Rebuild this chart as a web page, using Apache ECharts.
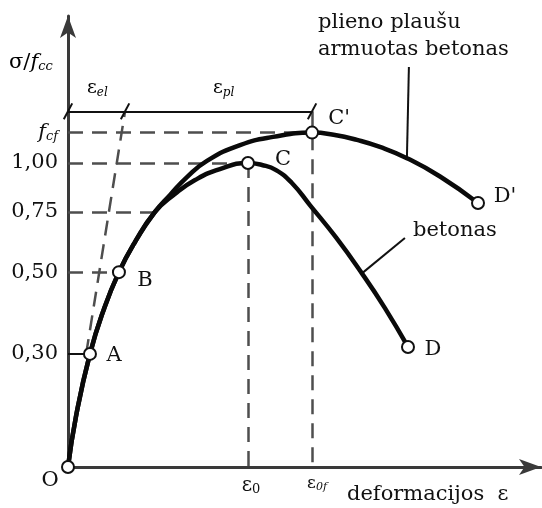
<!DOCTYPE html>
<html>
<head>
<meta charset="utf-8">
<script src="https://cdn.jsdelivr.net/npm/echarts@6/dist/echarts.min.js"></script>
<style>
  html, body { margin: 0; padding: 0; background: #fff; }
  #chart { width: 542px; height: 508px; }
</style>
</head>
<body>
<div id="chart"></div>
<script>
// Stress levels σ/fc marked on the vertical axis
const stressLevels = [0.30, 0.50, 0.75, 1.00];
const stressLabels = ['0,30', '0,50', '0,75', '1,00'];
const fcfLevel = 1.10;          // peak of steel-fibre reinforced concrete, f_cf
const dimLevel = 1.17;          // level of the ε_el / ε_pl dimension line

// The stress axis of this diagram is schematic: each reference level sits at its own height
const scaleNominal = [0, 0.30, 0.50, 0.75, 1.00, 1.10, 1.60];
const scaleDrawn   = [0, 0.372, 0.641, 0.839, 1.00, 1.10, 1.60];

// Strains (ε0 = 1)
const eps0 = 1.0;
const eps0f = 1.356;
const epsEl = 0.317;            // elastic part of ε0f
const eps75 = 0.483;            // strain where σ/fc = 0.75 on the rising branch

// Plain concrete ("betonas"): strain and σ/fc
const concreteEps = [0, 0.044, 0.122, 0.200, 0.283, 0.372, 0.483, 0.594, 0.706, 0.844, 1.000, 1.078, 1.156, 1.244, 1.344, 1.489, 1.633, 1.761, 1.889];
const concreteSig = [0, 0.133, 0.300, 0.410, 0.500, 0.625, 0.750, 0.842, 0.913, 0.969, 1.000, 0.990, 0.964, 0.898, 0.785, 0.644, 0.497, 0.412, 0.317];

// Steel-fibre reinforced concrete ("plieno plaušu armuotas betonas")
const fibreEps = [0, 0.044, 0.122, 0.200, 0.283, 0.372, 0.483, 0.567, 0.661, 0.772, 0.956, 1.139, 1.356, 1.483, 1.606, 1.733, 1.883, 2.067, 2.278];
const fibreSig = [0, 0.133, 0.300, 0.410, 0.500, 0.625, 0.750, 0.837, 0.928, 1.007, 1.059, 1.086, 1.100, 1.092, 1.076, 1.053, 1.016, 0.931, 0.796];

// Named points on the curves
const pointNames = ['O', 'A', 'B', 'C', "C'", 'D', "D'"];
const pointEps   = [0, 0.122, 0.283, 1.000, 1.356, 1.889, 2.278];
const pointSig   = [0, 0.300, 0.500, 1.000, 1.100, 0.317, 0.796];

// Curve captions: anchor on the curve and free end of the leader
const fibreLeaderEps = [1.883, 1.894];
const fibreLeaderSig = [1.016, 1.316];
const concreteLeaderEps = [1.633, 1.872];
const concreteLeaderSig = [0.497, 0.642];

// ---- schematic stress scale -------------------------------------------------
function drawnHeight(s) {
  for (let i = 1; i < scaleNominal.length; i++) {
    if (s <= scaleNominal[i]) {
      const t = (s - scaleNominal[i - 1]) / (scaleNominal[i] - scaleNominal[i - 1]);
      return scaleDrawn[i - 1] + t * (scaleDrawn[i] - scaleDrawn[i - 1]);
    }
  }
  return s;
}
const pt = (e, s) => [e, drawnHeight(s)];
const zip = (xs, ys) => xs.map((x, i) => pt(x, ys[i]));

const FONT = '"DejaVu Serif", "Liberation Serif", serif';
const INK = '#111111';
const AXIS = '#3a3a3a';
const DASH = '#4e4e4e';

const tangentStartEps = epsEl * drawnHeight(0.30) / drawnHeight(dimLevel);

const dashedSegs = [
  [pt(0, fcfLevel), pt(eps0f, fcfLevel)],
  [pt(0, 1.00), pt(eps0, 1.00)],
  [pt(0, 0.75), pt(eps75, 0.75)],
  [pt(0, 0.50), pt(pointEps[2], 0.50)],
  [pt(eps0, 1.00), pt(eps0, 0)],
  [pt(eps0f, dimLevel), pt(eps0f, 0)],
  [pt(tangentStartEps, 0.30), pt(epsEl, dimLevel)]
];

const solidSegs = [
  [pt(0, dimLevel), pt(eps0f, dimLevel)],
  [pt(0, 0.30), pt(pointEps[1], 0.30)],
  zip(fibreLeaderEps, fibreLeaderSig),
  zip(concreteLeaderEps, concreteLeaderSig)
];

// label placement around each named point (centre offset, px)
const pointLabelOffset = {
  'O': [-18, 14], 'A': [24, 2], 'B': [26, 8], 'C': [35, -3],
  "C'": [27, -14], 'D': [25, 3], "D'": [27, -6]
};

const yTickValues = stressLevels.map(drawnHeight).concat([drawnHeight(fcfLevel)]);
function yTickText(v) {
  if (Math.abs(v - drawnHeight(fcfLevel)) < 1e-6) return '{f|f}{s|cf}';
  const i = stressLevels.findIndex(s => Math.abs(drawnHeight(s) - v) < 1e-6);
  return i >= 0 ? stressLabels[i] : '';
}

const chart = echarts.init(document.getElementById('chart'), null, { renderer: 'canvas' });

chart.setOption({
  animation: false,
  backgroundColor: '#ffffff',
  grid: { left: 68, right: 1, top: 16, bottom: 41, containLabel: false },
  xAxis: {
    type: 'value', min: 0, max: 2.628,
    splitLine: { show: false },
    axisTick: { show: false },
    axisLine: {
      show: true, onZero: false,
      symbol: ['none', 'arrow'], symbolSize: [12, 22],
      lineStyle: { color: AXIS, width: 3 }
    },
    axisLabel: {
      customValues: [eps0, eps0f],
      margin: 8,
      formatter: v => (v === eps0 ? '{e|ε}{s|0}' : '{ef|ε}{sf|0f}'),
      rich: {
        e: { fontFamily: FONT, fontSize: 20, color: INK, padding: [0, 0, 0, 6] },
        s: { fontFamily: FONT, fontSize: 13, color: INK, padding: [8, 0, 0, 0] },
        ef: { fontFamily: FONT, fontSize: 17, color: INK, padding: [0, 0, 0, 10] },
        sf: { fontFamily: FONT, fontSize: 11, fontStyle: 'italic', color: INK, padding: [7, 0, 0, 0] }
      }
    }
  },
  yAxis: {
    type: 'value', min: 0, max: 1.4836,
    splitLine: { show: false },
    axisTick: { show: false },
    axisLine: {
      show: true, onZero: false,
      symbol: ['none', 'arrow'], symbolSize: [12, 22],
      lineStyle: { color: AXIS, width: 3 }
    },
    axisLabel: {
      customValues: yTickValues,
      margin: 10,
      fontFamily: FONT, fontSize: 21, color: INK,
      formatter: yTickText,
      rich: {
        f: { fontFamily: FONT, fontSize: 21, fontStyle: 'italic', color: INK },
        s: { fontFamily: FONT, fontSize: 13, fontStyle: 'italic', color: INK, padding: [9, 0, 0, 0] }
      }
    }
  },
  series: [
    {
      type: 'lines', coordinateSystem: 'cartesian2d', silent: true, z: 1,
      lineStyle: { color: DASH, width: 2.5, type: [15, 9], opacity: 1 },
      data: dashedSegs.map(c => ({ coords: c }))
    },
    {
      type: 'lines', coordinateSystem: 'cartesian2d', silent: true, z: 2,
      lineStyle: { color: INK, width: 2, opacity: 1 },
      data: solidSegs.map(c => ({ coords: c }))
    },
    {
      type: 'scatter', silent: true, z: 3,
      symbol: 'rect', symbolSize: [2, 18], symbolRotate: -28,
      itemStyle: { color: INK, opacity: 1 },
      data: [pt(0, dimLevel), pt(epsEl, dimLevel), pt(eps0f, dimLevel)]
    },
    {
      name: 'betonas', type: 'line', z: 4, smooth: 0.5, symbol: 'none',
      lineStyle: { color: '#0a0a0a', width: 4.5 },
      data: zip(concreteEps, concreteSig)
    },
    {
      name: 'plieno plaušu armuotas betonas', type: 'line', z: 4, smooth: 0.5, symbol: 'none',
      lineStyle: { color: '#0a0a0a', width: 4.5 },
      data: zip(fibreEps, fibreSig)
    },
    {
      type: 'scatter', z: 6, silent: true,
      symbol: 'circle', symbolSize: 12,
      itemStyle: { color: '#ffffff', borderColor: '#111', borderWidth: 2, opacity: 1 },
      label: {
        show: true, position: 'inside', formatter: '{b}',
        fontFamily: FONT, fontSize: 21, color: INK,
        align: 'center', verticalAlign: 'middle'
      },
      data: pointNames.map((n, i) => ({
        name: n,
        value: pt(pointEps[i], pointSig[i]),
        label: { offset: pointLabelOffset[n] }
      }))
    }
  ],
  graphic: [
    {
      type: 'text', left: 318, top: 9,
      style: { text: 'plieno plaušu\narmuotas betonas', font: '21px ' + FONT, fill: INK, lineHeight: 27 }
    },
    {
      type: 'text', left: 413, top: 220,
      style: { text: 'betonas', font: '21px ' + FONT, fill: INK }
    },
    {
      type: 'text', left: 347, top: 484,
      style: { text: 'deformacijos  ε', font: '21px ' + FONT, fill: INK }
    },
    {
      type: 'text', left: 9, top: 52,
      style: {
        text: '{a|σ/}{f|f}{s|cc}',
        rich: {
          a: { fontFamily: FONT, fontSize: 21, color: INK },
          f: { fontFamily: FONT, fontSize: 21, fontStyle: 'italic', color: INK },
          s: { fontFamily: FONT, fontSize: 13, fontStyle: 'italic', color: INK, padding: [9, 0, 0, 0] }
        }
      }
    },
    {
      type: 'text', left: 87, top: 79,
      style: {
        text: '{e|ε}{s|el}',
        rich: {
          e: { fontFamily: FONT, fontSize: 19, color: INK },
          s: { fontFamily: FONT, fontSize: 12, fontStyle: 'italic', color: INK, padding: [8, 0, 0, 0] }
        }
      }
    },
    {
      type: 'text', left: 213, top: 79,
      style: {
        text: '{e|ε}{s|pl}',
        rich: {
          e: { fontFamily: FONT, fontSize: 19, color: INK },
          s: { fontFamily: FONT, fontSize: 12, fontStyle: 'italic', color: INK, padding: [8, 0, 0, 0] }
        }
      }
    }
  ]
});
</script>
</body>
</html>
